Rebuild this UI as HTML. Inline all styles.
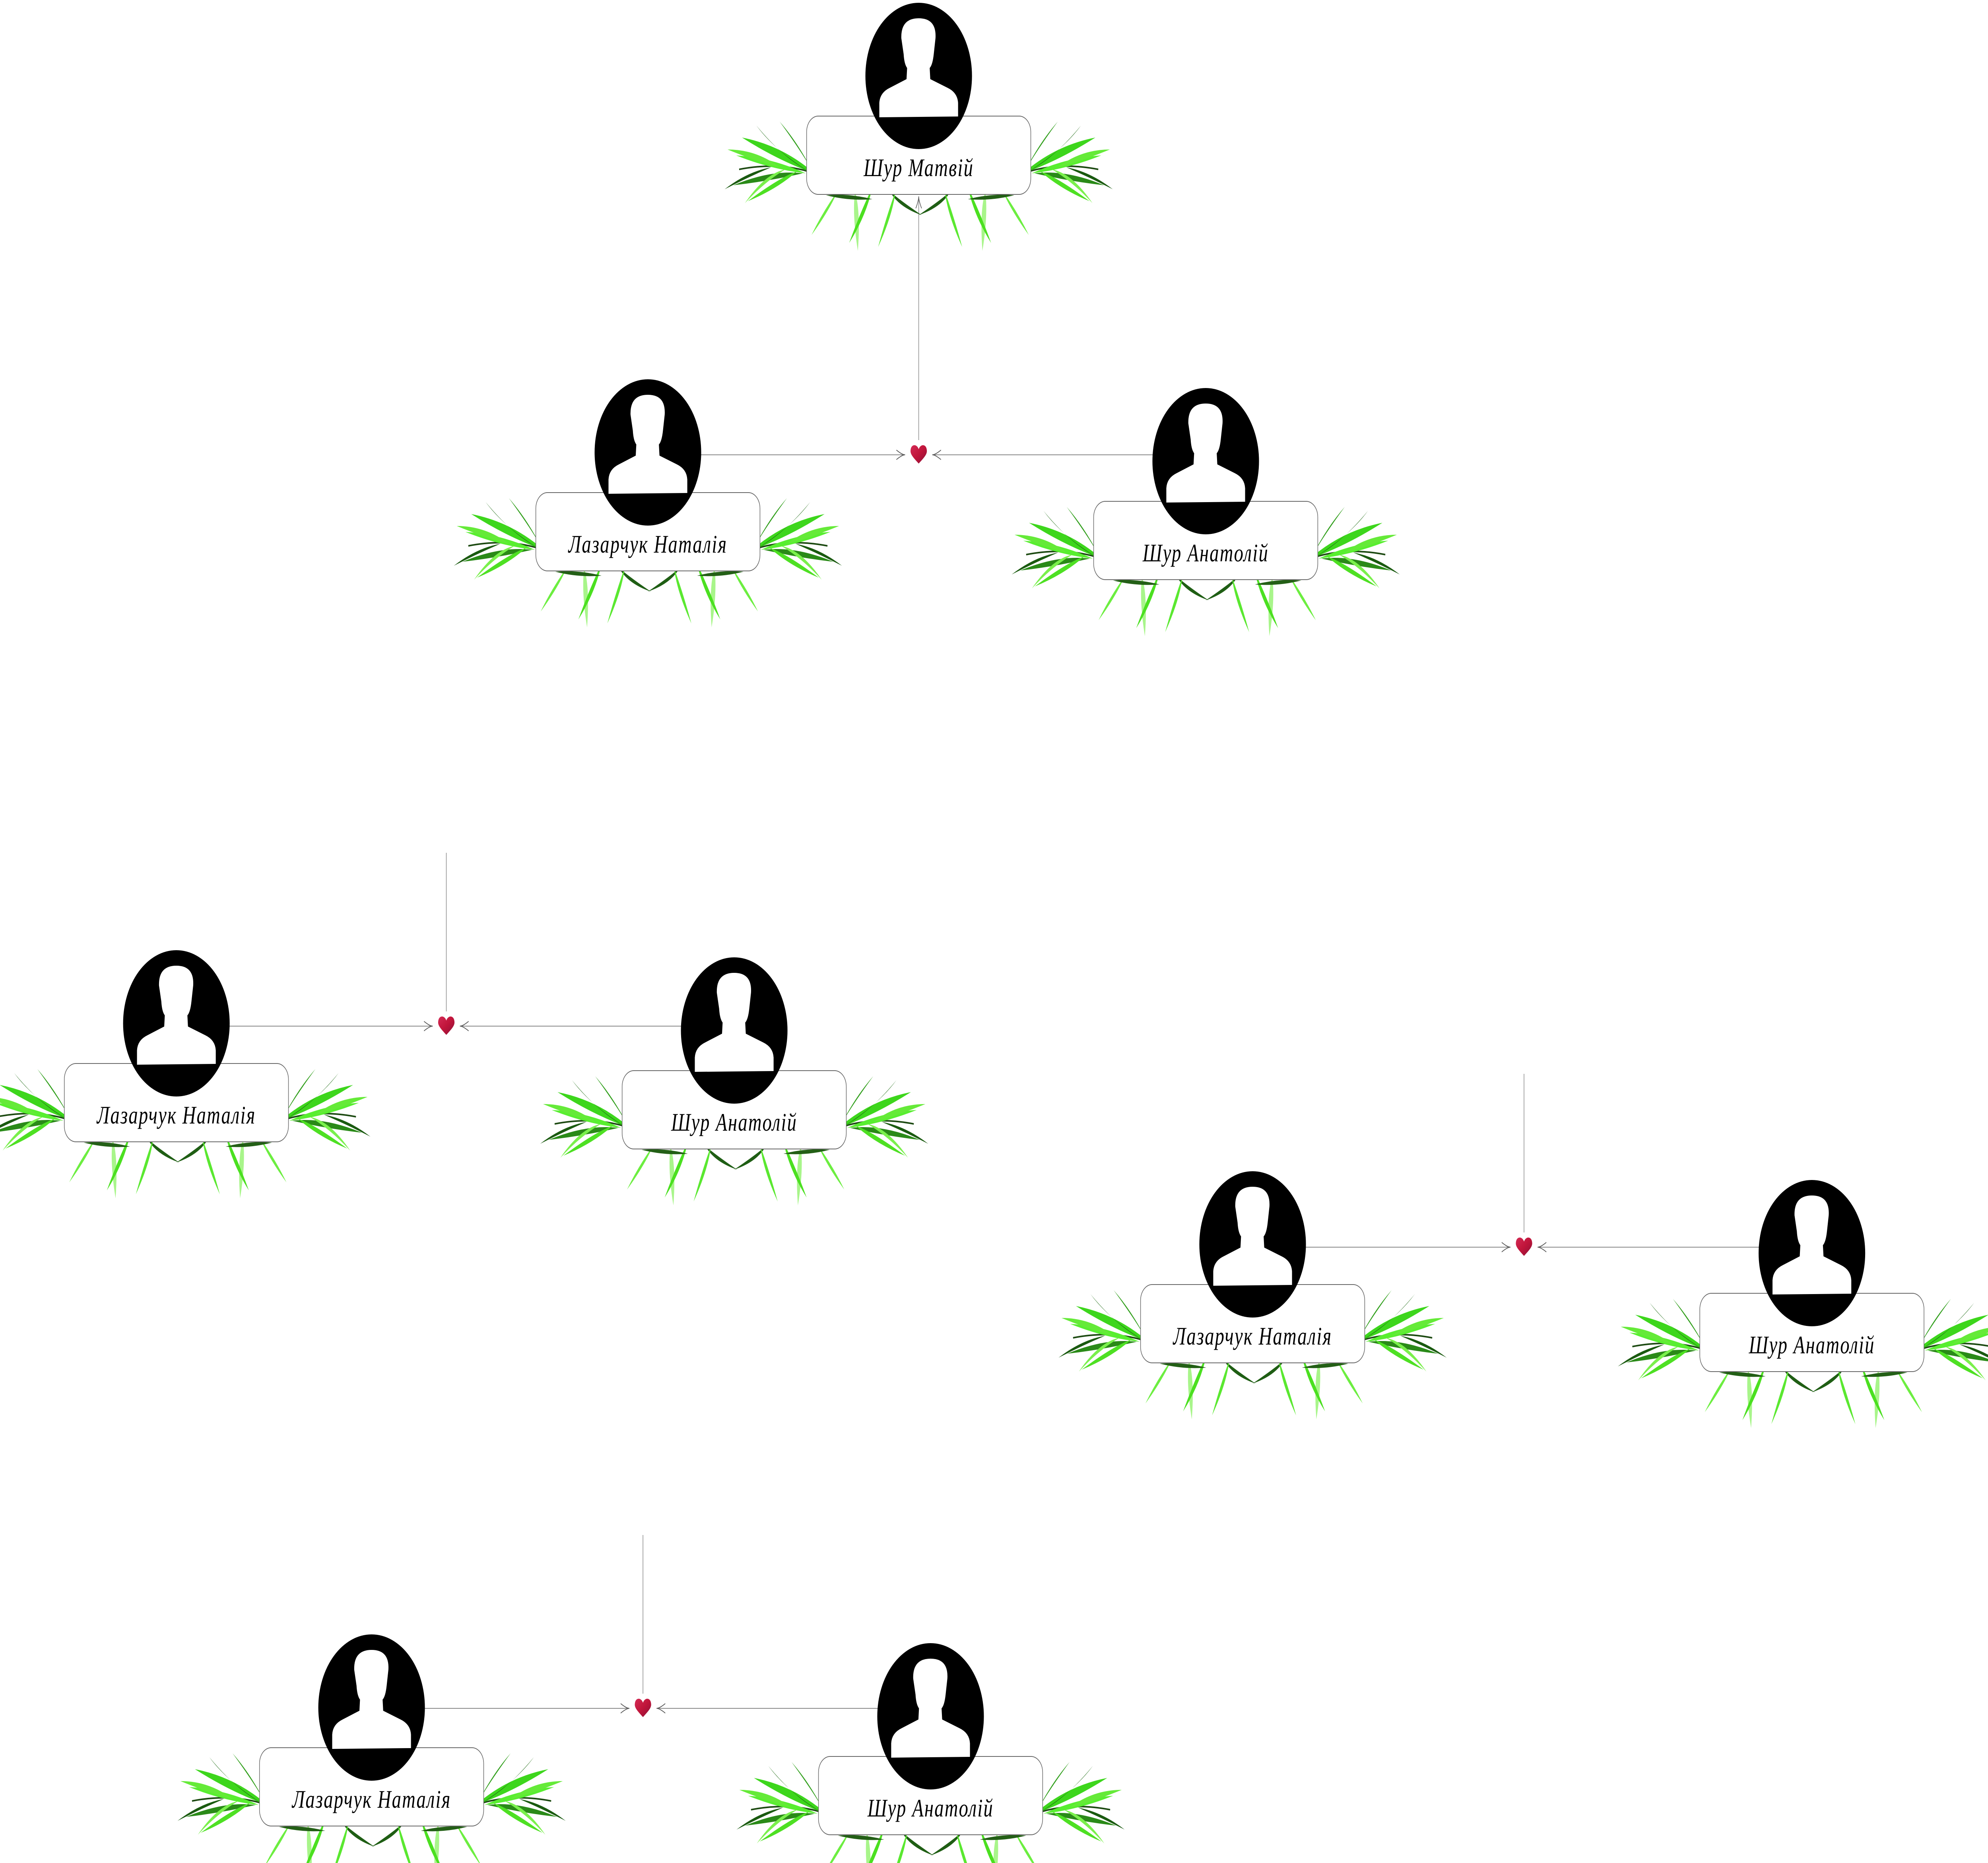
<!DOCTYPE html>
<html><head><meta charset="utf-8"><style>html,body{margin:0;padding:0;background:#fff;overflow:hidden;width:100%;height:100%}svg{display:block;width:100vw;height:100vh}</style></head>
<body>
<svg id="chart" viewBox="0 0 6864 4686" preserveAspectRatio="none" xmlns="http://www.w3.org/2000/svg">
<defs>
<linearGradient id="hg" x1="0" y1="0" x2="1" y2="1"><stop offset="0" stop-color="#d42a55"/><stop offset="0.5" stop-color="#c0153a"/><stop offset="1" stop-color="#8a1038"/></linearGradient>
<g id="spray">
<path d="M0,0 Q120,-30 260,-10" stroke="#1d4a12" stroke-width="4" fill="none"/>
<path d="M0,0 Q110,-70 250,-90 Q120,-30 0,0Z" fill="#3dd61c"/>
<path d="M20,-5 Q140,-60 200,-120 Q110,-40 20,-5Z" fill="#1f6b14"/>
<path d="M30,0 Q150,-40 270,-45 Q150,-10 30,0Z" fill="#58ee30"/>
<path d="M40,0 Q160,20 280,30 Q150,-10 40,0Z" fill="#2a8a18"/>
<path d="M60,-5 Q130,40 230,70 Q120,10 60,-5Z" fill="#4ee023"/>
<path d="M100,-10 Q170,20 240,75 Q170,0 100,-10Z" fill="#7af04c"/>
<path d="M10,-10 Q60,-80 120,-130 Q50,-60 10,-10Z" fill="#2f9e1a"/>
<path d="M120,-15 Q200,-60 300,-60 Q200,-30 120,-15Z" fill="#65ea38"/>
<path d="M150,-15 Q230,10 310,40 Q230,-5 150,-15Z" fill="#1a5a10"/>
</g>
<g id="under">
<path d="M0,0 Q20,50 10,150 Q-10,60 0,0Z" fill="#a8f58a"/>
<path d="M60,-10 Q40,60 -20,130 Q20,50 60,-10Z" fill="#4be020"/>
<path d="M120,0 Q150,40 230,60 Q150,20 120,0Z" fill="#1f5e14"/>
<path d="M140,0 Q110,60 80,140 Q130,60 140,0Z" fill="#5ae830"/>
<path d="M-60,0 Q-110,50 -150,110 Q-90,50 -60,0Z" fill="#6cee40"/>
<path d="M-100,10 Q-20,5 60,20 Q-20,25 -100,10Z" fill="#235f16"/>
</g>
</defs>
<g id="links"></g>
<g id="nodes"></g>
</svg>
<script>
const names = ["Шур Матвій","Лазарчук Наталія","Шур Анатолій","Лазарчук Наталія","Шур Анатолій","Лазарчук Наталія","Шур Анатолій","Лазарчук Наталія","Шур Анатолій"];
const nodeX = [3172,2237,4163,609,2535,4325,6256,1283,3213];
const nodeY = [191,1138,1160,2574,2592,3130,3152,4295,4317];
const coupleLeft = [1,3,5,7];
const coupleRight = [2,4,6,8];
const heartX = [3172,1541,5262,2220];
const heartY = [1142,2579,3135,4295];
const stemTop = [494,2145,2701,3861];

const NS="http://www.w3.org/2000/svg";
const R=184;
function mk(tag,attrs,parent){const e=document.createElementNS(NS,tag);for(const k in attrs)e.setAttribute(k,attrs[k]);parent.appendChild(e);return e;}
const links=document.getElementById('links'), nodes=document.getElementById('nodes');

function arrow(x,y,dir,parent){
  const d=`M${x-dir*30},${y-12} Q${x-dir*10},${y} ${x},${y} Q${x-dir*10},${y} ${x-dir*30},${y+12}`;
  mk('path',{d:d,stroke:'#555','stroke-width':2,fill:'none'},parent);
}

for(let i=0;i<heartX.length;i++){
  const g=mk('g',{},links);
  
  
  const hx=heartX[i], hy=heartY[i];
  const L=coupleLeft[i], Rr=coupleRight[i];
  mk('line',{x1:nodeX[L]+R-10,y1:hy+2,x2:hx-47,y2:hy+2,stroke:'#888','stroke-width':2},g);
  arrow(hx-47,hy+2,1,g);
  mk('line',{x1:nodeX[Rr]-R+10,y1:hy+2,x2:hx+47,y2:hy+2,stroke:'#888','stroke-width':2},g);
  arrow(hx+47,hy+2,-1,g);
  mk('line',{x1:hx,y1:stemTop[i],x2:hx,y2:hy-35,stroke:'#888','stroke-width':2},g);
  const h=mk('path',{d:`M${hx},${hy+24} C${hx-20},${hy+8} ${hx-30},${hy} ${hx-28},${hy-10} C${hx-26},${hy-26} ${hx-6},${hy-26} ${hx},${hy-12} C${hx+6},${hy-26} ${hx+26},${hy-26} ${hx+28},${hy-10} C${hx+30},${hy} ${hx+20},${hy+8} ${hx},${hy+24}Z`,fill:'url(#hg)'},g);
  
  
}
(function(){const hx=heartX[0],y=stemTop[0];mk('path',{d:`M${hx-10},${y+30} Q${hx},${y+10} ${hx},${y} Q${hx},${y+10} ${hx+10},${y+30}`,stroke:'#555','stroke-width':2,fill:'none'},links);})();

for(let i=0;i<names.length;i++){
  const cx=nodeX[i], cy=nodeY[i];
  const g=mk('g',{},nodes);
  
  
  const lv=mk('g',{},g);
  
  
  mk('use',{href:'#spray',transform:`translate(${cx+360},${cy+245})`},lv);
  mk('use',{href:'#spray',transform:`translate(${cx-360},${cy+245}) scale(-1,1)`},lv);
  mk('use',{href:'#under',transform:`translate(${cx-220},${cy+290})`},lv);
  mk('use',{href:'#under',transform:`translate(${cx+230},${cy+290}) scale(-1,1)`},lv);
  const box=mk('rect',{x:cx-387,y:cy+101,width:774,height:197,rx:40,fill:'#fff',stroke:'#666','stroke-width':2},g);
  
  
  const c=mk('circle',{cx:cx,cy:cy,r:R,fill:'#000'},g);
  
  
  const s=`M${cx-136},${cy+104} L${cx-136},${cy+68} Q${cx-134},${cy+42} ${cx-100},${cy+30} L${cx-42},${cy+8} L${cx-40},${cy-20} Q${cx-50},${cy-30} ${cx-52},${cy-55} L${cx-60},${cy-95} Q${cx-62},${cy-145} ${cx},${cy-145} Q${cx+62},${cy-145} ${cx+58},${cy-95} L${cx+52},${cy-55} Q${cx+48},${cy-28} ${cx+38},${cy-20} L${cx+40},${cy+8} L${cx+100},${cy+30} Q${cx+134},${cy+42} ${cx+136},${cy+68} L${cx+136},${cy+102}Z`;
  mk('path',{d:s,fill:'#fff'},g);
  const t=mk('text',{x:cx,y:cy+252,'text-anchor':'middle','font-family':'"Liberation Serif", serif','font-style':'italic','font-size':64,'letter-spacing':3,fill:'#000'},g);
  
  
  t.textContent=names[i];
}
</script>
</body></html>
